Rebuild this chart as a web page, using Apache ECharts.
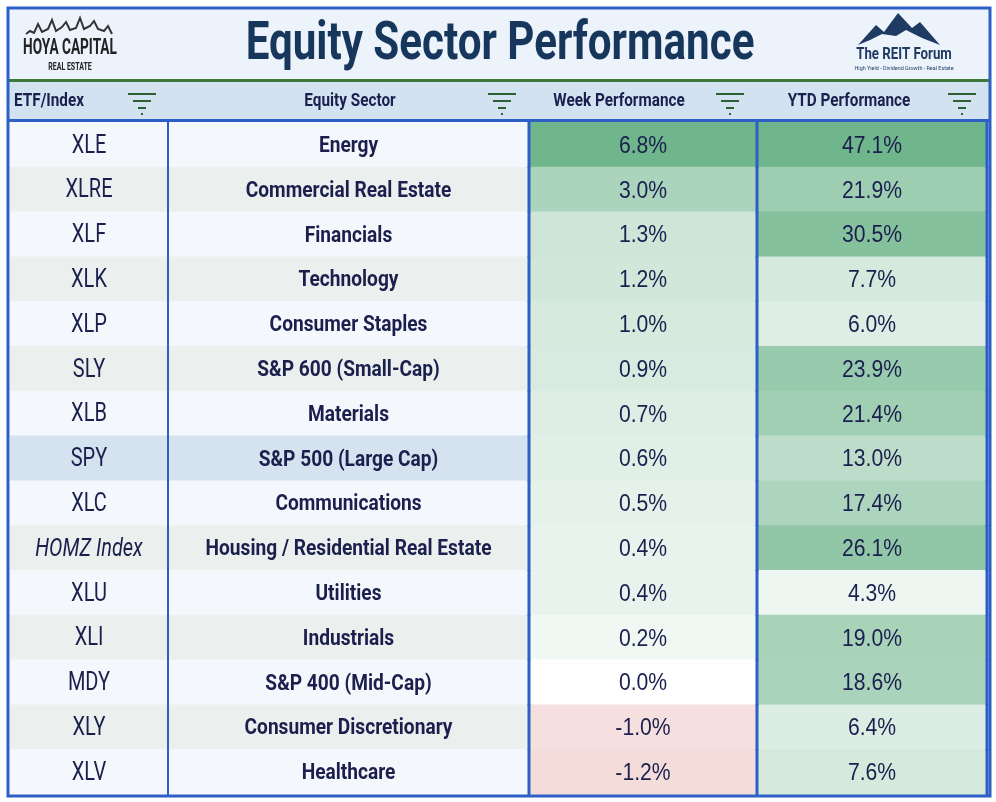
<!DOCTYPE html>
<html><head><meta charset="utf-8">
<script src="https://cdn.jsdelivr.net/npm/echarts@6/dist/echarts.min.js"></script>
<style>html,body{margin:0;padding:0;background:#fff}#c{width:996px;height:802px}</style>
</head><body><div id="c"></div>
<script>
const tickers = ['XLE','XLRE','XLF','XLK','XLP','SLY','XLB','SPY','XLC','HOMZ Index','XLU','XLI','MDY','XLY','XLV'];
const sectors = ['Energy','Commercial Real Estate','Financials','Technology','Consumer Staples','S&P 600 (Small-Cap)','Materials','S&P 500 (Large Cap)','Communications','Housing / Residential Real Estate','Utilities','Industrials','S&P 400 (Mid-Cap)','Consumer Discretionary','Healthcare'];
const weekPerf = [6.8,3.0,1.3,1.2,1.0,0.9,0.7,0.6,0.5,0.4,0.4,0.2,0.0,-1.0,-1.2];
const ytdPerf = [47.1,21.9,30.5,7.7,6.0,23.9,21.4,13.0,17.4,26.1,4.3,19.0,18.6,6.4,7.6];
const headers = ['ETF/Index','Equity Sector','Week Performance','YTD Performance'];

const colEdges = [10,168,529,757,987];
const navy = '#1a1f4d';
const FONT = '"Roboto", "Liberation Sans", sans-serif';
function mix(a,b,t){const pa=[1,3,5].map(i=>parseInt(a.substr(i,2),16)),pb=[1,3,5].map(i=>parseInt(b.substr(i,2),16));return 'rgb('+pa.map((v,i)=>Math.round(v+(pb[i]-v)*t)).join(',')+')';}
function weekColor(v){if(v<0)return mix('#fbf0f0','#f4dcdb',Math.min(1,-v/1.2));return mix('#ffffff','#6fb68c',Math.pow(v/6.8,0.65));}
function ytdColor(v){const t=(v-4.3)/(47.1-4.3);return mix('#eef6f1','#6fb68c',Math.min(1,Math.pow(t*1.25,0.7)));}
function rowBg(i){if(tickers[i]==='SPY')return '#d5e3f0';return i%2===0?'#f4f8fc':'#ebf0ee';}

const data=[];
for(let r=0;r<tickers.length;r++)for(let c=0;c<4;c++)data.push([c,r]);

const chart=echarts.init(document.getElementById('c'));
function filterIcon(x,y){
  return [
    {type:'rect',shape:{x:x,y:y,width:28,height:2},style:{fill:'#2e5f33'}},
    {type:'rect',shape:{x:x+5,y:y+7,width:18,height:2},style:{fill:'#2e5f33'}},
    {type:'rect',shape:{x:x+10,y:y+14,width:8,height:2},style:{fill:'#2e5f33'}},
    {type:'rect',shape:{x:x+13,y:y+20,width:2,height:2},style:{fill:'#2e5f33'}}
  ];
}
function ctext(x,y,text,font,fill,align,sx){
  return {type:'text',x:x,y:y,scaleX:sx,style:{x:0,y:0,text:text,font:font,fill:fill,align:align,verticalAlign:'middle'},z:5};
}
const headerGraphics=[
  {type:'rect',shape:{x:8,y:8,width:982,height:73},style:{fill:'#edf3fb'},z:0},
  {type:'rect',shape:{x:8,y:81,width:982,height:40},style:{fill:'#d3e2f1'},z:0},
  {type:'rect',shape:{x:8,y:79,width:982,height:3},style:{fill:'#3d7a3a'},z:5},
  {type:'rect',shape:{x:8,y:119,width:982,height:3},style:{fill:'#2d5fc6'},z:5},
  ctext(500,45,'Equity Sector Performance','bold 54px '+FONT,'#17365c','center',0.78),
  ctext(70,48,'HOYA CAPITAL','bold 22px '+FONT,'#222','center',0.62),
  ctext(70,67,'REAL ESTATE','bold 10px '+FONT,'#222','center',0.7),
  {type:'polyline',shape:{points:[[26,34],[30,31],[34,33],[38,24],[42,32],[48,29],[52,20],[56,31],[62,27],[66,22],[70,30],[76,28],[80,18],[84,29],[90,26],[94,21],[98,29],[104,31],[108,26],[112,34]]},style:{stroke:'#333',lineWidth:2,fill:null},z:5},
  {type:'polygon',shape:{points:[[858,45],[876,25],[884,32],[898,13],[912,28],[920,22],[940,45],[922,38],[906,30],[896,36],[882,34],[870,40]]},style:{fill:'#1f3a63'},z:5},
  ctext(904,55,'The REIT Forum','bold 17px '+FONT,'#1f3a63','center',0.78),
  ctext(904,68,'High Yield - Dividend Growth - Real Estate','6px '+FONT,'#1f3a63','center',0.9)
];
const hx=[[14,'left',128],[350,'center',488],[619,'center',716],[849,'center',948]];
headers.forEach((h,i)=>{
  headerGraphics.push(ctext(hx[i][0],101,h,'bold 18px '+FONT,navy,hx[i][1],0.85));
  headerGraphics.push(...filterIcon(hx[i][2],93).map(g=>Object.assign(g,{z:5})));
});
headerGraphics.push({type:'rect',shape:{x:8,y:8,width:982,height:788},style:{fill:null,stroke:'#2d5fc6',lineWidth:3},z:20});

chart.setOption({
  animation:false,
  grid:{left:0,right:0,top:122,bottom:8},
  xAxis:{type:'value',min:0,max:996,show:false},
  yAxis:{type:'category',data:tickers,inverse:true,show:false},
  graphic:headerGraphics,
  series:[{
    type:'custom',data:data,
    renderItem:function(params,api){
      const c=api.value(0),r=api.value(1);
      const p=api.coord([colEdges[c],r]);
      const p2=api.coord([colEdges[c+1],r]);
      const h=api.size([0,1])[1];
      const x=p[0],y=p[1]-h/2,w=p2[0]-p[0];
      let fill=rowBg(r),text,font,sx=1;
      if(c===0){text=tickers[r];font=(tickers[r]==='HOMZ Index'?'italic ':'')+'25px '+FONT;sx=0.8;}
      else if(c===1){text=sectors[r];font='bold 22px '+FONT;sx=0.87;}
      else if(c===2){text=weekPerf[r].toFixed(1)+'%';fill=weekColor(weekPerf[r]);font='23px "Liberation Sans", sans-serif';sx=0.92;}
      else {text=ytdPerf[r].toFixed(1)+'%';fill=ytdColor(ytdPerf[r]);font='23px "Liberation Sans", sans-serif';sx=0.92;}
      const children=[
        {type:'rect',shape:{x:x,y:y,width:w,height:h+0.5},style:{fill:fill}},
        {type:'text',x:x+w/2,y:p[1]+2,scaleX:sx,style:{x:0,y:0,text:text,font:font,fill:navy,align:'center',verticalAlign:'middle'}}
      ];
      const lw=c===0?2:3;
      children.push({type:'rect',shape:{x:p2[0]-lw/2,y:y,width:lw,height:h+1},style:{fill:'#2d5fc6'},z2:5});
      return {type:'group',children:children};
    }
  }]
});
</script></body></html>
